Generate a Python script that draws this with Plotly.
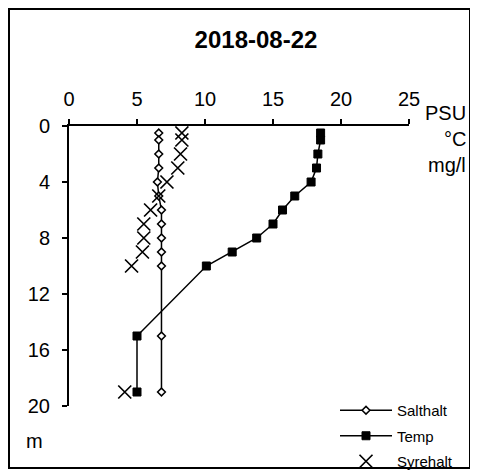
import plotly.graph_objects as go

# ---- data ----
title_text = "2018-08-22"
salt_depth = [0.5, 1, 2, 3, 4, 5, 6, 7, 8, 9, 10, 15, 19]
salt_vals = [6.6, 6.6, 6.6, 6.6, 6.5, 6.6, 6.8, 6.8, 6.8, 6.8, 6.8, 6.8, 6.8]
temp_depth = [0.5, 1, 2, 3, 4, 5, 6, 7, 8, 9, 10, 15, 19]
temp_vals = [18.5, 18.5, 18.3, 18.2, 17.8, 16.6, 15.7, 15.0, 13.8, 12.0, 10.1, 5.0, 5.0]
oxy_depth = [0.5, 1, 2, 3, 4, 5, 6, 7, 8, 9, 10, 19]
oxy_vals = [8.3, 8.3, 8.2, 8.0, 7.2, 6.6, 6.0, 5.5, 5.5, 5.4, 4.6, 4.1]
x_ticks = [0, 5, 10, 15, 20, 25]
y_ticks = [0, 4, 8, 12, 16, 20]
unit_labels = ["PSU", "°C", "mg/l"]
depth_unit = "m"

FONT = "Liberation Sans, Arial, sans-serif"
OFF = 8  # page body margin
W, H = 478 - OFF, 475 - OFF
# plot area in page pixels: x 69..409, y 126..406
L, R, T, B = 69 - OFF, W - (409 - OFF), 126 - OFF, H - (406 - OFF)
pw, ph = W - L - R, H - T - B

def px_x(p):  # page pixel -> paper
    return (p - OFF - L) / pw

def px_y(p):
    return (H - B - (p - OFF)) / ph

fig = go.Figure()
fig.add_trace(go.Scatter(
    x=salt_vals, y=salt_depth, name="Salthalt", mode="lines+markers",
    line=dict(color="black", width=1.5),
    marker=dict(symbol="diamond", size=6, color="white", line=dict(color="black", width=1.5)),
    legendgroup="a",
))
fig.add_trace(go.Scatter(
    x=temp_vals, y=temp_depth, name="Temp", mode="lines+markers",
    line=dict(color="black", width=1.5),
    marker=dict(symbol="square", size=8, color="black", line=dict(color="black", width=1)),
    legendgroup="b",
))
fig.add_trace(go.Scatter(
    x=oxy_vals, y=oxy_depth, name="Syrehalt", mode="markers",
    marker=dict(symbol="x-thin", size=13, color="black", line=dict(color="black", width=1.7)),
    legendgroup="c",
))

fig.update_layout(
    width=W, height=H,
    margin=dict(l=L, r=R, t=T, b=B, autoexpand=False),
    paper_bgcolor="white", plot_bgcolor="white",
    font=dict(family=FONT, size=20, color="black"),
    title=dict(text="<b>%s</b>" % title_text, x=(256 - OFF) / W, xref="container", xanchor="center",
               y=1 - (40 - OFF) / H, yref="container", yanchor="middle",
               font=dict(family=FONT, size=24, color="black")),
    showlegend=True,
    legend=dict(x=px_x(335), y=px_y(394), xanchor="left", yanchor="top",
                font=dict(family=FONT, size=15, color="black"),
                bgcolor="rgba(0,0,0,0)", tracegroupgap=3, itemwidth=52),
)
fig.update_xaxes(
    side="top", range=[0, 25], tickvals=x_ticks, ticktext=[str(v) for v in x_ticks],
    showgrid=False, zeroline=False, showline=True, linecolor="black", linewidth=2,
    ticks="outside", ticklen=5, tickwidth=2, tickcolor="black",
    tickfont=dict(family=FONT, size=20, color="black"), ticklabelstandoff=5,
)
fig.update_yaxes(
    range=[20, 0], tickvals=y_ticks, ticktext=[str(v) for v in y_ticks],
    showgrid=False, zeroline=False, showline=True, linecolor="black", linewidth=2,
    ticks="outside", ticklen=5, tickwidth=2, tickcolor="black",
    tickfont=dict(family=FONT, size=20, color="black"), ticklabelstandoff=8,
)

# outer frame
fig.add_shape(type="rect", xref="paper", yref="paper",
              x0=px_x(9), x1=px_x(470), y0=px_y(468), y1=px_y(9),
              line=dict(color="black", width=2), fillcolor="rgba(0,0,0,0)", layer="below")

# unit labels
for txt, yy in zip(unit_labels, [113, 139, 165]):
    fig.add_annotation(text=txt, xref="paper", yref="paper", x=px_x(468), y=px_y(yy),
                       xanchor="right", yanchor="middle", showarrow=False,
                       font=dict(family=FONT, size=20, color="black"))
fig.add_annotation(text=depth_unit, xref="paper", yref="paper", x=px_x(24), y=px_y(441),
                   xanchor="left", yanchor="middle", showarrow=False,
                   font=dict(family=FONT, size=20, color="black"))

fig.write_html("out.html")
